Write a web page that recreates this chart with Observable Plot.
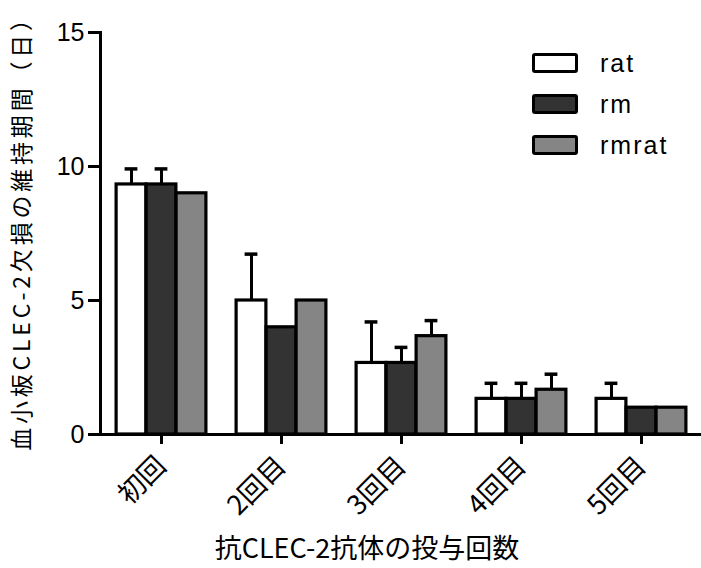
<!DOCTYPE html>
<html>
<head>
<meta charset="utf-8">
<script src="https://cdn.jsdelivr.net/npm/d3@7"></script>
<script src="https://cdn.jsdelivr.net/npm/@observablehq/plot@0.6"></script>
<style>
  html, body { margin: 0; padding: 0; background: #fff; }
  #wrap { position: relative; width: 701px; height: 568px; }
  #legend { position: absolute; left: 532px; top: 53px; font-family: "Liberation Sans", Arial, sans-serif; font-size: 25px; letter-spacing: 2px; color: #000; }
  .row { display: flex; align-items: center; height: 20px; margin-bottom: 21px; }
  .sw { box-sizing: border-box; width: 46px; height: 20px; border: 3px solid #000; border-radius: 3px; margin-right: 22px; }
</style>
</head>
<body>
<div id="wrap"></div>
<script>
const categories = ["初回", "2回目", "3回目", "4回目", "5回目"];
const series = ["rat", "rm", "rmrat"];
const colors = ["#ffffff", "#333333", "#858585"];
const ratMean = [9.33, 5, 2.67, 1.33, 1.33];
const ratSD = [0.58, 1.73, 1.53, 0.58, 0.58];
const rmMean = [9.33, 4, 2.67, 1.33, 1];
const rmSD = [0.58, 0, 0.58, 0.58, 0];
const rmratMean = [9, 5, 3.67, 1.67, 1];
const rmratSD = [0, 0, 0.58, 0.58, 0];
const yTicks = [0, 5, 10, 15];
const yTitle = "血小板CLEC-2欠損の維持期間（日）";
const xTitle = "抗CLEC-2抗体の投与回数";

const means = [ratMean, rmMean, rmratMean];
const sds = [ratSD, rmSD, rmratSD];

const W = 701, H = 568, ML = 100, MR = 0, MT = 32, MB = 134;
const step = (W - ML - MR) / categories.length;
const barW = 30, groupW = barW * series.length;
const capW = 13;

const marks = [];
series.forEach((s, i) => {
  const rows = categories.map((c, j) => ({cat: c, v: means[i][j], sd: sds[i][j]}));
  const errRows = rows.filter(d => d.sd > 0);
  const insetLeft = (step - groupW) / 2 + barW * i;
  const insetRight = step - insetLeft - barW;
  const dx = insetLeft + barW / 2 - step / 2;
  marks.push(Plot.ruleX(errRows, {x: "cat", y1: "v", y2: d => d.v + d.sd, stroke: "#000", strokeWidth: 3, dx}));
  marks.push(Plot.tickY(errRows, {x: "cat", y: d => d.v + d.sd, stroke: "#000", strokeWidth: 3.5,
    insetLeft: step / 2 + dx - capW / 2, insetRight: step / 2 - dx - capW / 2}));
  marks.push(Plot.barY(rows, {x: "cat", y: "v", fill: colors[i], stroke: "#000", strokeWidth: 3.2,
    insetLeft, insetRight}));
});

const chart = Plot.plot({
  width: W, height: H,
  marginLeft: ML, marginRight: MR, marginTop: MT, marginBottom: MB,
  style: {fontFamily: "Liberation Sans, Arial, sans-serif", fontSize: "24px", color: "#000", background: "#fff", overflow: "visible"},
  x: {domain: categories, padding: 0},
  y: {domain: [0, 15]},
  marks: [
    ...marks,
    Plot.ruleY([0], {stroke: "#000", strokeWidth: 3}),
    Plot.frame({anchor: "left", stroke: "#000", strokeWidth: 3}),
    Plot.axisY({ticks: yTicks, tickSize: 12, tickPadding: 4, strokeWidth: 3, fontSize: 25, label: null}),
    Plot.axisX({tickSize: 10, tickPadding: 17, tickRotate: -45, strokeWidth: 3, fontSize: 27,
      fontFamily: "Noto Sans CJK JP", label: null}),
    Plot.text([yTitle], {frameAnchor: "left", rotate: -90, dx: -78, dy: -6, textAnchor: "middle", lineAnchor: "middle",
      fontSize: 23, fontFamily: "Noto Sans CJK JP", fill: "#000"}),
    Plot.text([xTitle], {frameAnchor: "bottom", dx: -34, dy: 115, textAnchor: "middle", lineAnchor: "middle",
      fontSize: 27, fontFamily: "Noto Sans CJK JP", fill: "#000"})
  ]
});

d3.select(chart).selectAll("text")
  .filter(function () { return this.textContent === yTitle; })
  .style("letter-spacing", "3.8px");

const wrap = document.getElementById("wrap");
wrap.appendChild(chart);
const legend = document.createElement("div");
legend.id = "legend";
series.forEach((s, i) => {
  const row = document.createElement("div");
  row.className = "row";
  const sw = document.createElement("div");
  sw.className = "sw";
  sw.style.background = colors[i];
  const t = document.createElement("span");
  t.textContent = s;
  row.appendChild(sw);
  row.appendChild(t);
  legend.appendChild(row);
});
wrap.appendChild(legend);
</script>
</body>
</html>
